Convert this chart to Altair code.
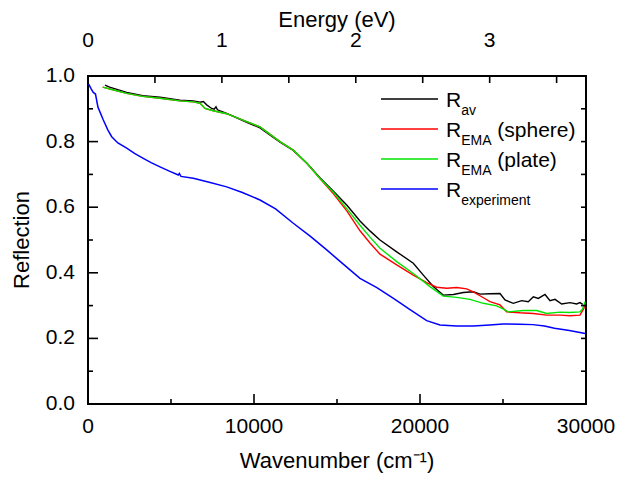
import altair as alt
import pandas as pd

# ---------------- data ----------------
CM_PER_EV = 8065.54

series_names = ["R_av", "R_EMA (sphere)", "R_EMA (plate)", "R_experiment"]
series_colors = ["#000000", "#ff0000", "#00e600", "#0000ff"]

av_wn = [1024, 1300, 2331, 3300, 4337, 5542, 6343, 6747, 6950, 7150, 7450, 7600, 7710, 7800,
         8355, 9560, 10361, 11566, 12367, 13200, 14000, 14800, 15600, 16385, 17000, 17590,
         18596, 19597, 20200, 20800, 21400, 22010, 22610, 23210, 23614, 24200, 24819, 25120,
         25622, 26124, 26525, 26827, 27128, 27530, 27831, 28132, 28534, 29036, 29438, 29638, 29800]
av_R = [0.972, 0.966, 0.950, 0.940, 0.935, 0.926, 0.924, 0.920, 0.922, 0.912, 0.901, 0.899, 0.906, 0.897,
        0.886, 0.859, 0.842, 0.798, 0.773, 0.733, 0.688, 0.648, 0.606, 0.558, 0.527, 0.500,
        0.464, 0.429, 0.393, 0.358, 0.332, 0.334, 0.340, 0.342, 0.335, 0.336, 0.337, 0.317,
        0.307, 0.315, 0.312, 0.327, 0.322, 0.334, 0.315, 0.319, 0.305, 0.309, 0.305, 0.309, 0.304]

sph_wn = [885, 1500, 2331, 3300, 4337, 5542, 6343, 6747, 7048, 7550, 8355, 9560, 10361, 11566,
          12367, 13200, 14000, 14800, 15600, 16385, 17000, 17590, 18596, 19597, 20400, 21004,
          21606, 22210, 22811, 23210, 23614, 24216, 24819, 25220, 26024, 26827, 27630, 28433,
          29036, 29638, 29880, 29950]
sph_R = [0.966, 0.958, 0.947, 0.938, 0.932, 0.924, 0.921, 0.917, 0.901, 0.894, 0.885, 0.861, 0.845, 0.800,
         0.774, 0.733, 0.686, 0.640, 0.588, 0.528, 0.490, 0.457, 0.424, 0.393, 0.370, 0.356,
         0.353, 0.355, 0.351, 0.342, 0.330, 0.312, 0.302, 0.281, 0.278, 0.276, 0.271, 0.271,
         0.269, 0.271, 0.292, 0.310]

pla_wn = [885, 1500, 2331, 3300, 4337, 5542, 6343, 6747, 7048, 7550, 8355, 9560, 10361, 11566,
          12367, 13200, 14000, 14800, 15600, 16385, 17000, 17590, 18596, 19597, 20600, 21400,
          22210, 23012, 23815, 24619, 25000, 25320, 26225, 27028, 27630, 28433, 29000, 29638,
          29800, 29940]
pla_R = [0.966, 0.958, 0.947, 0.938, 0.932, 0.924, 0.921, 0.917, 0.901, 0.894, 0.885, 0.861, 0.845, 0.800,
         0.774, 0.733, 0.686, 0.645, 0.595, 0.545, 0.508, 0.475, 0.434, 0.398, 0.358, 0.329,
         0.325, 0.319, 0.307, 0.299, 0.290, 0.281, 0.285, 0.285, 0.276, 0.280, 0.279, 0.281,
         0.290, 0.312]

exp_wn = [40, 200, 320, 450, 600, 922, 1200, 1428, 1800, 2331, 2800, 3331, 3800, 4337, 4900,
          5440, 5500, 5600, 6343, 7300, 8355, 9300, 10361, 11300, 12367, 13400, 14380, 15200,
          16385, 17400, 18400, 19400, 20400, 21205, 22200, 23200, 24200, 25000, 26000, 26800,
          27500, 28100, 29000, 29950]
exp_R = [0.975, 0.960, 0.950, 0.945, 0.905, 0.866, 0.835, 0.815, 0.796, 0.780, 0.764, 0.749, 0.736, 0.723, 0.710,
         0.698, 0.703, 0.694, 0.688, 0.676, 0.662, 0.645, 0.622, 0.595, 0.551, 0.511, 0.470, 0.434,
         0.383, 0.355, 0.322, 0.288, 0.254, 0.241, 0.238, 0.238, 0.241, 0.244, 0.243, 0.242,
         0.238, 0.231, 0.224, 0.215]

x_major = [0, 10000, 20000, 30000]
x_minor = [5000, 15000, 25000]
y_major = [0.0, 0.2, 0.4, 0.6, 0.8, 1.0]
y_minor = [0.1, 0.3, 0.5, 0.7, 0.9]
y_right = [0.1, 0.2, 0.3, 0.4, 0.5, 0.6, 0.7, 0.8, 0.9]
ev_labels = [0, 1, 2, 3]
ev_ticks = [0.5, 1.0, 1.5, 2.0, 2.5, 3.0, 3.5]

x_title = "Wavenumber (cm\u207b\u00b9)"
y_title = "Reflection"
top_title = "Energy (eV)"

legend_main = ["R", "R", "R", "R"]
legend_sub = ["av", "EMA", "EMA", "experiment"]
legend_suffix = ["", "(sphere)", "(plate)", ""]

# ---------------- layout ----------------
W, H = 498, 328
FONT = "Liberation Sans"
LAB = 21
SUB = 14
X_MAX = 30000

series_data = [(av_wn, av_R), (sph_wn, sph_R), (pla_wn, pla_R), (exp_wn, exp_R)]
rows = []
for name, (wn, R) in zip(series_names, series_data):
    for w, r in zip(wn, R):
        rows.append({"series": name, "wn": w, "R": r})
df = pd.DataFrame(rows)

xs = alt.Scale(domain=[0, X_MAX], nice=False, zero=False)
ys = alt.Scale(domain=[0, 1], nice=False, zero=False)
cs = alt.Scale(domain=series_names, range=series_colors)

X = lambda f="wn:Q": alt.X(f, scale=xs, axis=None)
Y = lambda f="R:Q": alt.Y(f, scale=ys, axis=None)

layers = []
draw_order = ["R_experiment", "R_av", "R_EMA (sphere)", "R_EMA (plate)"]
for name in draw_order:
    layers.append(
        alt.Chart(df).transform_filter(alt.datum.series == name).mark_line(
            strokeWidth=1.4 if name != "R_experiment" else 1.5
        ).encode(
            x=X(), y=Y(),
            color=alt.Color("series:N", scale=cs, legend=None),
            order=alt.Order("wn:Q"),
        )
    )

# ---- inward ticks (tick marks, positioned by the shared scales) ----
def vticks(values, length, at_top=False, field="wn", calc=None):
    ch = alt.Chart(pd.DataFrame({field: values}))
    if calc:
        ch = ch.transform_calculate(wn=calc)
    yc = length / 2 if at_top else H - length / 2
    return ch.mark_tick(orient="vertical", size=length, thickness=1.6, color="black",
                        opacity=1).encode(x=X(), y=alt.value(yc))

def hticks(values, length, at_right=False):
    ch = alt.Chart(pd.DataFrame({"R": values}))
    xc = W - length / 2 if at_right else length / 2
    return ch.mark_tick(orient="horizontal", size=length, thickness=1.6, color="black",
                        opacity=1).encode(y=Y(), x=alt.value(xc))

layers.append(vticks(x_major, 10))
layers.append(vticks(x_minor, 5))
layers.append(hticks(y_major, 10))
layers.append(hticks(y_minor, 5))
layers.append(hticks(y_right, 5, at_right=True))
layers.append(vticks(ev_ticks, 7, at_top=True, field="eV", calc=f"datum.eV * {CM_PER_EV}"))

# tick labels (placed through the scales)
TXT = dict(font=FONT, fontSize=LAB, color="black")
layers.append(alt.Chart(pd.DataFrame({"wn": x_major, "part": "label"})).mark_text(
    baseline="alphabetic", align="center", **TXT).encode(
    x=X(), y=alt.value(H + 29), text=alt.Text("wn:Q", format="d")))
layers.append(alt.Chart(pd.DataFrame({"R": y_major, "part": "label"})).mark_text(
    baseline="middle", align="right", **TXT).encode(
    y=Y(), x=alt.value(-13), text=alt.Text("R:Q", format=".1f")))

ev_l = alt.Chart(pd.DataFrame({"eV": ev_labels, "part": "label"})).transform_calculate(
    wn=f"datum.eV * {CM_PER_EV}")
layers.append(ev_l.mark_text(baseline="alphabetic", align="center", **TXT).encode(
    x=X(), y=alt.value(-29), text=alt.Text("eV:Q", format="d")))

# axis titles
TT = dict(font=FONT, fontSize=LAB + 1, color="black", baseline="alphabetic", align="center")
layers.append(alt.Chart(pd.DataFrame({"t": [top_title]})).mark_text(**TT).encode(
    x=alt.value(W / 2), y=alt.value(-49), text="t:N"))
layers.append(alt.Chart(pd.DataFrame({"t": [x_title]})).mark_text(**TT).encode(
    x=alt.value(W / 2), y=alt.value(H + 64), text="t:N"))
layers.append(alt.Chart(pd.DataFrame({"t": [y_title]})).mark_text(angle=270, **TT).encode(
    x=alt.value(-59), y=alt.value(H / 2), text="t:N"))

# legend (drawn by hand to allow subscripts)
CW = {"E": 0.667, "M": 0.833, "A": 0.667, "a": 0.556, "v": 0.5}
def text_w(s, size):
    return sum(CW.get(c, 0.556) for c in s) * size

leg_line_y = [23, 53, 83, 113]
x_line0, x_line1 = 293, 350
x_main = 358
x_sub = x_main + 0.722 * LAB
for name, main, sub, suf, ly in zip(series_names, legend_main, legend_sub, legend_suffix, leg_line_y):
    row = pd.DataFrame({"series": [name], "main": [main], "sub": [sub], "suffix": [suf]})
    base = alt.Chart(row)
    layers.append(base.mark_rule(strokeWidth=1.5).encode(
        x=alt.value(x_line0), x2=alt.value(x_line1), y=alt.value(ly),
        color=alt.Color("series:N", scale=cs, legend=None)))
    layers.append(base.mark_text(font=FONT, fontSize=LAB, align="left", baseline="alphabetic",
                                 color="black").encode(
        x=alt.value(x_main), y=alt.value(ly + 7.5), text="main:N"))
    layers.append(base.mark_text(font=FONT, fontSize=SUB, align="left", baseline="alphabetic",
                                 color="black").encode(
        x=alt.value(x_sub), y=alt.value(ly + 16), text="sub:N"))
    if suf:
        layers.append(base.mark_text(font=FONT, fontSize=LAB, align="left", baseline="alphabetic",
                                     color="black").encode(
            x=alt.value(x_sub + text_w(sub, SUB) + 0.278 * LAB), y=alt.value(ly + 7.5),
            text="suffix:N"))

chart = alt.layer(*layers).properties(
    width=W, height=H,
    autosize=alt.AutoSizeParams(type="none"),
    padding={"left": 80, "top": 68, "right": 37, "bottom": 71},
    background="white",
).configure_view(stroke="black", strokeWidth=2)

chart.save("out.html", embed_options={"renderer": "svg", "actions": False})
